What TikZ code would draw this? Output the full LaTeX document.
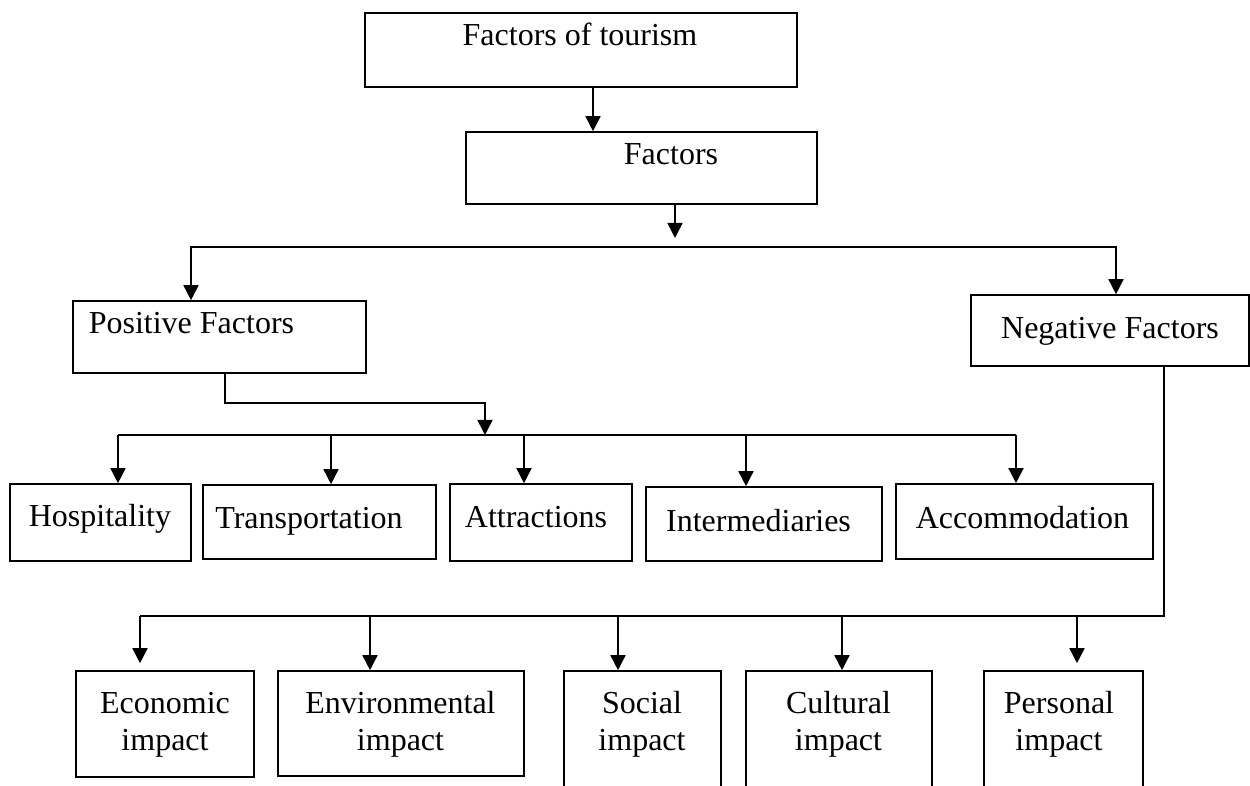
\documentclass[tikz,border=0pt]{standalone}
\usepackage{fontspec}
\setmainfont{Liberation Serif}
\usepackage{tikz}
\usetikzlibrary{arrows.meta}
\tikzset{
    box/.style={draw=black, line width=0.8pt, inner sep=0pt},
    txt/.style={font=\fontsize{16}{18.5}\selectfont, inner sep=0pt, align=center},
    >={Triangle[width=7.5pt,length=7.5pt]}}

\begin{document}
\begin{tikzpicture}[x=0.5pt, y=-0.5pt, line width=0.8pt]
        \useasboundingbox (0,0) rectangle (1250,786);
        \clip (0,0) rectangle (1250,786);

            % boxes
            \node[box, minimum width=216pt, minimum height=37pt] (tour) at (581,50) {};
            \node[box, minimum width=175.5pt, minimum height=36pt] (fac) at (641.5,168) {};
            \node[box, minimum width=146.5pt, minimum height=36pt] (pos) at (219.5,337) {};
            \node[box, minimum width=139pt, minimum height=35.5pt] (neg) at (1110,330.5) {};

            \node[box, minimum width=90.5pt, minimum height=38.5pt] (hosp) at (100.5,522.5) {};
            \node[box, minimum width=116.5pt, minimum height=37pt] (trans) at (319.5,522) {};
            \node[box, minimum width=91pt, minimum height=38.5pt] (attr) at (541,522.5) {};
            \node[box, minimum width=118pt, minimum height=37pt] (inter) at (764,524) {};
            \node[box, minimum width=128.5pt, minimum height=37.5pt] (acc) at (1024.5,521.5) {};

            \node[box, minimum width=89pt, minimum height=53pt] (eco) at (165,724) {};
            \node[box, minimum width=123pt, minimum height=52.5pt] (env) at (401,723.5) {};
            \node[box, minimum width=78.5pt, minimum height=65pt] (soc) at (642.5,736) {};
            \node[box, minimum width=93pt, minimum height=65pt] (cul) at (839,736) {};
            \node[box, minimum width=79.5pt, minimum height=65pt] (pers) at (1063.5,736) {};

            % texts
            \node[txt, anchor=base] (tour-t) at (580,46) {Factors of tourism};
            \node[txt, anchor=base] (fac-t) at (671,165) {Factors};
            \node[txt, anchor=base west] (pos-t) at (88,334) {Positive Factors};
            \node[txt, anchor=base] (neg-t) at (1110,339) {Negative Factors};

            \node[txt, anchor=base] (hosp-t) at (100,527) {Hospitality};
            \node[txt, anchor=base] (trans-t) at (309,529) {Transportation};
            \node[txt, anchor=base] (attr-t) at (536,528) {Attractions};
            \node[txt, anchor=base] (inter-t) at (758.5,532) {Intermediaries};
            \node[txt, anchor=base] (acc-t) at (1022.5,529) {Accommodation};

            \node[txt, anchor=base] (eco-t) at (165,750) {Economic\\impact};
            \node[txt, anchor=base] (env-t) at (400.5,750) {Environmental\\impact};
            \node[txt, anchor=base] (soc-t) at (642,750) {Social\\impact};
            \node[txt, anchor=base] (cul-t) at (838.5,750) {Cultural\\impact};
            \node[txt, anchor=base] (pers-t) at (1059,750) {Personal\\impact};

            % connectors
            \coordinate (hub1) at (675,238);
            \coordinate (b1l) at (191,247);
            \coordinate (b1r) at (1116,247);
            \coordinate (hub2) at (485,435);
            \coordinate (b2l) at (118,435);
            \coordinate (b2r) at (1016,435);
            \coordinate (b3l) at (140,616);

            \draw[->] ([xshift=6pt]tour.south) -- ([xshift=6pt]tour.south |- fac.north);
            \draw[->] (fac.south -| hub1) -- (hub1);
            \draw[<->] (b1l |- pos.north) -- (b1l) -- (b1r) -- (b1r |- neg.north);

            \draw[->] ([xshift=2.75pt]pos.south) |- ([yshift=16pt]hub2) -- (hub2);
            \draw (b2l) -- (b2r);
            \foreach \n/\x in {hosp/118, trans/331, attr/524, inter/746, acc/1016}
                \draw[->] (\x,435) -- (\x,435 |- \n.north);

            \draw ([xshift=27pt]neg.south) |- (b3l);
            \foreach \n/\x/\s in {eco/140/3.5pt, env/370/0pt, soc/618/0pt, cul/842/0pt, pers/1077/3.5pt}
                \draw[->, shorten >=\s] (\x,616) -- (\x,616 |- \n.north);

        \end{tikzpicture}
\end{document}
